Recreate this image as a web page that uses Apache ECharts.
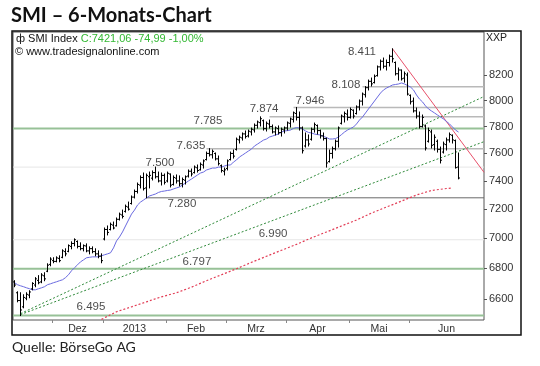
<!DOCTYPE html>
<html><head><meta charset="utf-8">
<script src="https://cdn.jsdelivr.net/npm/echarts@6/dist/echarts.min.js"></script>
<style>html,body{margin:0;padding:0;background:#fff}#c{width:540px;height:366px}</style>
</head><body><div id="c"></div>
<script>
// ---- categories (trading-day slots per month) ----
const monthNames = ['Nov', 'Dez', '2013', 'Feb', 'Mrz', 'Apr', 'Mai', 'Jun'];
const monthDays  = [13, 17, 21, 20, 20, 21, 20, 25];

// ---- daily OHLC ----
const open = [
 6710,6640,6590,6550,6605,6625,6665,6690,6720,6710,
 6750,6780,6825,6850,6845,6865,6872,6910,6912,6945,
 6965,6978,6945,6930,6948,6915,6930,6910,6895,6880,
 6995,7060,7060,7090,7085,7130,7160,7185,7215,7240,
 7285,7325,7370,7425,7350,7430,7420,7460,7430,7400,
 7440,7400,7450,7375,7420,7400,7380,7405,7435,7470,
 7460,7495,7480,7515,7555,7600,7590,7600,7560,7510,
 7470,7490,7555,7600,7630,7700,7715,7745,7730,7760,
 7775,7810,7830,7845,7785,7820,7800,7760,7785,7755,
 7775,7790,7825,7855,7900,7870,7790,7655,7700,7705,
 7780,7808,7770,7730,7710,7540,7600,7635,7690,7825,
 7875,7895,7870,7925,7900,7950,7995,8045,8100,8150,
 8140,8195,8265,8310,8270,8300,8350,8300,8210,8240,
 8175,8200,8040,7995,7920,7880,7800,7805,7690,7760,
 7665,7690,7630,7610,7665,7700,7735,7695,7500];
const high = [
 6718,6646,6640,6627,6640,6653,6705,6738,6751,6764,
 6770,6829,6869,6869,6875,6882,6922,6929,6955,6976,
 6996,6982,6969,6955,6962,6942,6942,6929,6915,6895,
 7070,7084,7104,7111,7139,7173,7194,7229,7250,7293,
 7335,7385,7436,7457,7450,7464,7472,7500,7464,7457,
 7450,7464,7450,7436,7443,7436,7421,7436,7479,7486,
 7508,7515,7530,7552,7610,7635,7625,7603,7581,7515,
 7493,7552,7610,7625,7714,7729,7752,7767,7774,7789,
 7820,7842,7874,7850,7835,7850,7812,7797,7805,7789,
 7797,7835,7865,7911,7946,7911,7797,7752,7737,7789,
 7827,7812,7774,7752,7714,7625,7647,7699,7797,7888,
 7911,7927,7942,7927,7958,8004,8058,8108,8160,8176,
 8200,8272,8320,8336,8320,8360,8411,8304,8256,8240,
 8224,8216,8043,8019,7942,7911,7888,7812,7789,7774,
 7737,7699,7647,7684,7714,7752,7737,7699,7603];
const low = [
 6679,6582,6495,6544,6595,6608,6659,6679,6698,6705,
 6718,6777,6816,6836,6842,6842,6869,6882,6909,6929,
 6949,6935,6922,6915,6909,6895,6902,6882,6869,6836,
 6989,7023,7057,7064,7084,7125,7139,7180,7194,7236,
 7279,7314,7350,7335,7280,7350,7407,7421,7393,7371,
 7378,7393,7357,7371,7385,7364,7357,7378,7428,7436,
 7457,7464,7479,7493,7552,7581,7566,7552,7515,7464,
 7443,7479,7552,7566,7625,7677,7699,7714,7722,7737,
 7759,7789,7805,7774,7767,7789,7752,7737,7744,7729,
 7752,7774,7797,7835,7850,7774,7603,7647,7655,7699,
 7759,7744,7714,7699,7500,7537,7566,7625,7647,7820,
 7835,7850,7865,7865,7896,7927,7965,8027,8082,8113,
 8137,8192,8240,8256,8240,8272,8304,8200,8160,8160,
 8144,8043,7973,7911,7865,7789,7797,7625,7684,7640,
 7625,7610,7530,7603,7625,7684,7677,7493,7415];
const close = [
 6690,6590,6530,6610,6630,6645,6700,6730,6705,6755,
 6730,6820,6860,6845,6868,6850,6915,6895,6950,6965,
 6990,6945,6930,6950,6915,6930,6910,6895,6880,6850,
 7060,7040,7095,7070,7130,7165,7150,7220,7200,7285,
 7325,7375,7425,7345,7440,7440,7460,7430,7400,7440,
 7390,7455,7370,7425,7400,7380,7410,7430,7470,7450,
 7500,7475,7520,7545,7600,7590,7615,7560,7525,7475,
 7480,7545,7600,7580,7705,7720,7745,7725,7765,7780,
 7810,7835,7860,7785,7825,7800,7760,7790,7755,7780,
 7790,7828,7858,7905,7870,7790,7620,7700,7670,7780,
 7815,7770,7730,7710,7530,7600,7635,7690,7790,7880,
 7900,7870,7930,7880,7950,7995,8050,8100,8150,8130,
 8190,8265,8310,8270,8300,8350,8330,8210,8240,8170,
 8210,8050,7990,7920,7880,7800,7870,7640,7770,7660,
 7720,7630,7550,7670,7700,7740,7700,7496,7421];

// ---- short moving average (blue) ----
const maShort = [
 6705,6692,6685,6679,6672,6666,6659,6659,6666,6672,
 6679,6692,6698,6705,6711,6718,6724,6738,6757,6783,
 6803,6822,6842,6855,6869,6872,6875,6875,6875,6882,
 6889,6895,6902,6935,6982,7009,7043,7084,7125,7166,
 7194,7229,7250,7264,7279,7293,7300,7307,7318,7325,
 7328,7332,7335,7343,7350,7357,7371,7385,7400,7414,
 7428,7443,7457,7464,7479,7486,7493,7493,7500,7500,
 7508,7515,7515,7537,7552,7574,7588,7603,7618,7632,
 7655,7669,7684,7699,7707,7722,7729,7737,7744,7759,
 7767,7770,7774,7786,7793,7789,7782,7767,7756,7752,
 7744,7740,7737,7726,7718,7707,7707,7710,7722,7740,
 7759,7774,7786,7797,7820,7850,7873,7904,7935,7965,
 7996,8027,8058,8082,8097,8109,8121,8125,8129,8137,
 8129,8117,8105,8082,8043,8011,7989,7958,7935,7919,
 7904,7888,7873,7858,7839,7820,7797,7774,7759];

// ---- long moving average (red, dotted), read at sample days ----
const maLongDay = [29,34,39,44,49,54,59,64,69,74,79,84,89,94,99,104,109,114,119,124,129,134,139,144,146];
const maLongVal = [6471,6519,6550,6582,6614,6640,6676,6718,6757,6796,6839,6879,6919,6959,7003,7043,7084,7125,7173,7215,7257,7300,7332,7346,7350];

// ---- horizontal levels ----
const levelValues = [8411, 8108, 7946, 7874, 7785, 7635, 7500, 7280, 6990, 6797, 6495];
const levelFrom   = [null, 116,  93,   85,   -0.5, 64,  -0.5, 44,  -0.5, -0.5, -0.5];

// ---- trend lines [day, value] ----
const trendGreenUpper = [[2, 6507], [156.5, 8031]];
const trendGreenLower = [[2, 6501], [156.5, 7687]];
const trendRed        = [[126, 8411], [156.5, 7462]];

// ---- right axis ticks ----
const yTicks = [6600, 6800, 7000, 7200, 7400, 7600, 7800, 8000, 8200];

// ================= layout / style (not data) =================
const levelKind = ['none','gray','gray','gray','green','gray','faint','dark','faint','green','green'];
const levelLabelAt = [115.8, 110.5, 98.5, 83.2, 64.5, 58.8, 48.5, 55.8, 86.2, 60.8, 25.5];
const levelLabelDy = [3, -1.5, -6.5, -8, -7.5, -2.7, -4, 6, -6, -7, -8.5];
const kindStyle = {
  gray:  {color: '#b9b9b9', width: 1.5},
  green: {color: '#97c197', width: 2},
  dark:  {color: '#6a6a6a', width: 1},
  faint: {color: '#e6e6e6', width: 1}
};

const N = monthDays.reduce((a, b) => a + b, 0);
const monthStart = [];
monthDays.reduce((acc, d) => { monthStart.push(acc); return acc + d; }, 0);
const tickVals = monthStart.slice(1).map(s => s - 0.5);
const labelVals = monthStart.slice(1).map((s, k) => s + (monthDays[k + 1] - 1) / 2);
const labelMap = {};
labelVals.forEach((v, k) => { labelMap[v] = monthNames[k + 1]; });

const fmtDE = v => String(v).replace(/\B(?=(\d{3})+(?!\d))/g, '.');
const FONT = '"Liberation Sans", Arial, sans-serif';

const ohlc = open.map((o, i) => [i, o, high[i], low[i], close[i]]);

const series = [];
levelValues.forEach((v, k) => {
  const kind = levelKind[k];
  if (kind === 'none') return;
  series.push({
    type: 'line', silent: true, symbol: 'none', z: 1,
    data: [[levelFrom[k], v], [N - 0.5, v]],
    lineStyle: {color: kindStyle[kind].color, width: kindStyle[kind].width}
  });
});
series.push({type: 'line', silent: true, symbol: 'none', z: 2, data: trendGreenUpper,
  lineStyle: {color: '#2f8a3a', width: 1, type: [2, 2]}});
series.push({type: 'line', silent: true, symbol: 'none', z: 2, data: trendGreenLower,
  lineStyle: {color: '#2f8a3a', width: 1, type: [2, 2]}});
series.push({type: 'line', silent: true, symbol: 'none', z: 2, data: trendRed,
  lineStyle: {color: '#e8506a', width: 1}});
series.push({type: 'line', silent: true, symbol: 'none', z: 3,
  data: maLongDay.map((d, k) => [d, maLongVal[k]]),
  lineStyle: {color: '#e23c55', width: 1.2, type: [2, 2]}});
series.push({type: 'line', silent: true, symbol: 'none', z: 3,
  data: maShort.map((v, i) => [i, v]),
  lineStyle: {color: '#6a6ae0', width: 1}});
series.push({
  type: 'custom', silent: true, z: 4,
  data: ohlc,
  encode: {x: 0, y: [1, 2, 3, 4]},
  renderItem: function (params, api) {
    const i = api.value(0);
    const o = api.coord([i, api.value(1)]);
    const h = api.coord([i, api.value(2)]);
    const l = api.coord([i, api.value(3)]);
    const c = api.coord([i, api.value(4)]);
    const x = Math.round(h[0] - 0.5) + 0.5;
    const st = {stroke: '#000', lineWidth: 1};
    return {type: 'group', children: [
      {type: 'line', shape: {x1: x, y1: h[1] - 0.5, x2: x, y2: l[1] + 0.5}, style: st},
      {type: 'line', shape: {x1: x - 1.5, y1: o[1], x2: x, y2: o[1]}, style: st},
      {type: 'line', shape: {x1: x, y1: c[1], x2: x + 1.5, y2: c[1]}, style: st}
    ]};
  }
});
series.push({
  type: 'scatter', silent: true, z: 5, symbolSize: 1,
  itemStyle: {color: 'rgba(0,0,0,0)'},
  data: levelValues.map((v, k) => ({
    value: [levelLabelAt[k], v],
    label: {offset: [0, levelLabelDy[k]]}
  })),
  label: {show: true, position: 'inside', formatter: p => fmtDE(p.value[1]),
    color: '#1a1a1a', fontSize: 11.5, fontFamily: FONT}
});

const chart = echarts.init(document.getElementById('c'), null, {renderer: 'canvas'});
chart.setOption({
  animation: false,
  backgroundColor: '#fff',
  grid: {left: 13, right: 56, top: 32, bottom: 46, show: true,
         borderColor: '#555', borderWidth: 1, backgroundColor: '#fff'},
  xAxis: {
    type: 'value', min: -0.5, max: N - 0.5, position: 'bottom',
    axisLine: {show: false, onZero: false}, splitLine: {show: false},
    axisTick: {show: true, inside: false, customValues: tickVals, length: 3, lineStyle: {color: '#888'}},
    axisLabel: {customValues: labelVals, formatter: v => labelMap[v] || '',
      fontSize: 10.5, color: '#333', margin: 4, fontFamily: FONT}
  },
  yAxis: {
    type: 'log', logBase: 10, min: 6467, max: 8549, position: 'right',
    axisLine: {show: false, onZero: false}, splitLine: {show: false},
    axisTick: {show: true, inside: false, customValues: yTicks, length: 3, lineStyle: {color: '#555'}},
    axisLabel: {customValues: yTicks, formatter: v => String(Math.round(v)),
      fontSize: 11, color: '#333', margin: 5, fontFamily: FONT}
  },
  graphic: [
    {type: 'rect', z: 100, silent: true, shape: {x: 12, y: 31, width: 509, height: 304},
     style: {fill: 'none', stroke: '#111', lineWidth: 1.5}},
    {type: 'text', z: 100, x: 11, y: 6,
     style: {text: 'SMI – 6-Monats-Chart', font: 'bold 20px Lato', fill: '#111'}},
    {type: 'text', z: 100, x: 16, y: 33,
     style: {text: '{k|ф SMI Index }{g|C:7421,06 -74,99 -1,00%}',
       rich: {k: {fill: '#111', fontSize: 11, fontFamily: FONT},
              g: {fill: '#33b833', fontSize: 11, fontFamily: FONT}}}},
    {type: 'text', z: 100, x: 15, y: 46,
     style: {text: '© www.tradesignalonline.com', fill: '#111', font: '11px ' + FONT}},
    {type: 'text', z: 100, x: 486, y: 33,
     style: {text: 'XXP', fill: '#222', font: '10.5px ' + FONT}},
    {type: 'text', z: 100, x: 12, y: 340,
     style: {text: 'Quelle: BörseGo AG', fill: '#222', font: '14px Lato'}}
  ],
  series: series
});
</script>
</body></html>
